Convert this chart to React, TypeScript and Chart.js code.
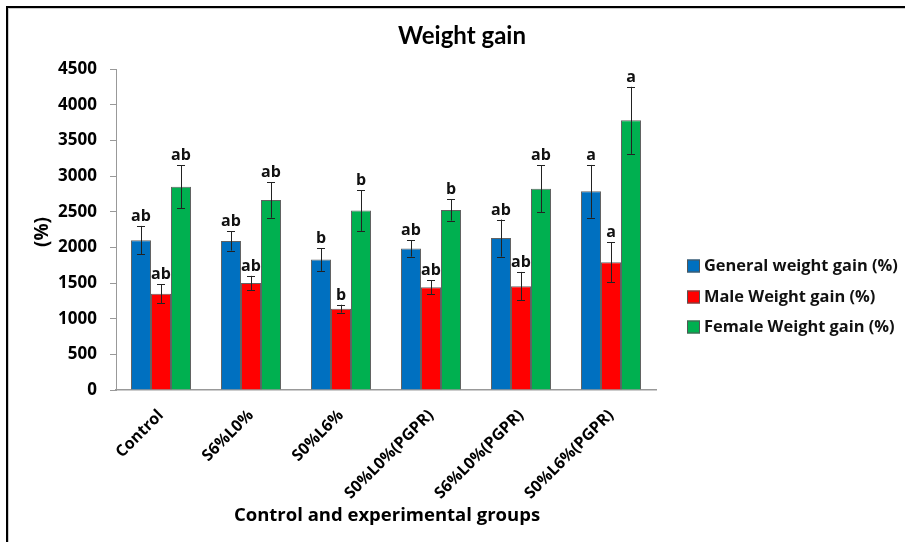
import React, { useEffect, useRef } from "react";
import { Chart, registerables } from "chart.js";
Chart.register(...registerables);

const categories = ["Control", "S6%L0%", "S0%L6%", "S0%L0%(PGPR)", "S6%L0%(PGPR)", "S0%L6%(PGPR)"];
const seriesNames = ["General weight gain (%)", "Male Weight gain (%)", "Female Weight gain (%)"];
const generalGain = [2100, 2090, 1830, 1985, 2130, 2785];
const generalErr = [200, 135, 160, 115, 260, 370];
const generalLetters = ["ab", "ab", "b", "ab", "ab", "a"];
const maleGain = [1350, 1500, 1140, 1440, 1455, 1790];
const maleErr = [130, 100, 55, 100, 200, 280];
const maleLetters = ["ab", "ab", "b", "ab", "ab", "a"];
const femaleGain = [2850, 2665, 2515, 2525, 2820, 3780];
const femaleErr = [300, 250, 285, 150, 330, 470];
const femaleLetters = ["ab", "ab", "b", "b", "ab", "a"];
const yMin = 0;
const yMax = 4500;
const yStep = 500;
const chartTitle = "Weight gain";
const xTitle = "Control and experimental groups";
const yTitle = "(%)";

const colors = ["#0070C0", "#FF0000", "#00B050"];
const FONT = "'Open Sans', sans-serif";

const errs = [generalErr, maleErr, femaleErr];
const letters = [generalLetters, maleLetters, femaleLetters];

const extrasPlugin = {
  id: "extras",
  afterDatasetsDraw(chart: any) {
    const ctx = chart.ctx;
    const ys = chart.scales.y;
    ctx.save();
    chart.data.datasets.forEach((ds: any, di: number) => {
      const meta = chart.getDatasetMeta(di);
      meta.data.forEach((el: any, i: number) => {
        const v = ds.data[i];
        const e = errs[di][i];
        const x = el.x;
        const yt = ys.getPixelForValue(v + e);
        const yb = ys.getPixelForValue(v - e);
        ctx.strokeStyle = "#222";
        ctx.lineWidth = 1;
        ctx.beginPath();
        ctx.moveTo(Math.round(x) + 0.5, yt);
        ctx.lineTo(Math.round(x) + 0.5, yb);
        ctx.moveTo(x - 4, Math.round(yt) + 0.5);
        ctx.lineTo(x + 4, Math.round(yt) + 0.5);
        ctx.moveTo(x - 4, Math.round(yb) + 0.5);
        ctx.lineTo(x + 4, Math.round(yb) + 0.5);
        ctx.stroke();
        ctx.fillStyle = "#111";
        ctx.font = `bold 16px ${FONT}`;
        ctx.textAlign = "center";
        ctx.textBaseline = "alphabetic";
        ctx.fillText(letters[di][i], x, yt - 5);
      });
    });
    ctx.restore();
  },
  afterDraw(chart: any) {
    const ctx = chart.ctx;
    ctx.save();
    // title
    ctx.fillStyle = "#000";
    ctx.textAlign = "center";
    ctx.textBaseline = "middle";
    ctx.font = `bold 24px Lato, sans-serif`;
    ctx.fillText(chartTitle, 462, 36);
    // x title
    ctx.font = `bold 18.5px ${FONT}`;
    ctx.fillText(xTitle, 387, 516);
    // y title
    ctx.save();
    ctx.translate(43, 232);
    ctx.rotate(-Math.PI / 2);
    ctx.font = `bold 19px ${FONT}`;
    ctx.fillText(yTitle, 0, 0);
    ctx.restore();
    // legend
    const rows = [266, 297, 327];
    seriesNames.forEach((name, i) => {
      const y = rows[i];
      ctx.fillStyle = colors[i];
      ctx.fillRect(687, y - 6.5, 13, 13);
      ctx.strokeStyle = "#555";
      ctx.lineWidth = 1;
      ctx.strokeRect(687.5, y - 6, 12, 12);
      ctx.fillStyle = "#111";
      ctx.textAlign = "left";
      ctx.textBaseline = "middle";
      ctx.font = `bold 16.4px ${FONT}`;
      ctx.fillText(name, 704, y);
    });
    ctx.restore();
  },
};

export default function App() {
  const ref = useRef<HTMLCanvasElement>(null);
  useEffect(() => {
    document.body.style.margin = "0";
    const series = [generalGain, maleGain, femaleGain];
    const chart = new Chart(ref.current!, {
      type: "bar",
      data: {
        labels: categories,
        datasets: series.map((d, i) => ({
          label: seriesNames[i],
          data: d,
          backgroundColor: colors[i],
          borderColor: "rgba(70,70,70,0.85)",
          borderWidth: 1,
          categoryPercentage: 0.667,
          barPercentage: 1,
        })),
      },
      options: {
        responsive: false,
        animation: false,
        layout: { padding: { left: 56, right: 249, top: 69, bottom: 32 } },
        plugins: {
          legend: { display: false },
          title: { display: false },
          tooltip: { enabled: false },
        },
        scales: {
          x: {
            afterFit: (s: any) => {
              s.height = 120;
            },
            grid: { display: true, drawOnChartArea: false, drawTicks: false },
            border: { display: true, color: "#999", width: 1.5 },
            ticks: {
              maxRotation: 45,
              minRotation: 45,
              padding: 16,
              color: "#000",
              font: { family: "'Open Sans'", size: 16, weight: "bold" },
            },
          },
          y: {
            min: yMin,
            max: yMax,
            afterFit: (s: any) => {
              s.width = 60;
            },
            grid: { display: true, drawOnChartArea: false, drawTicks: true, tickLength: 6, color: "#999" },
            border: { display: true, color: "#999", width: 1 },
            ticks: {
              stepSize: yStep,
              padding: 13,
              color: "#000",
              callback: (v: any) => String(v),
              font: { family: "'Open Sans'", size: 17, weight: "bold" },
            },
          },
        },
      },
      plugins: [extrasPlugin],
    });
    return () => chart.destroy();
  }, []);
  return (
    <div style={{ position: "absolute", left: 0, top: 0, width: 905, height: 542, background: "#fff", overflow: "hidden" }}>
      <div
        style={{
          position: "absolute",
          left: 6,
          top: 6,
          width: 905,
          height: 542,
          borderLeft: "2px solid #000",
          borderTop: "2px solid #000",
          boxShadow: "inset 1px 1px 0 #ccc",
        }}
      />
      <canvas ref={ref} width={905} height={542} style={{ position: "absolute", left: 0, top: 0 }} />
    </div>
  );
}
